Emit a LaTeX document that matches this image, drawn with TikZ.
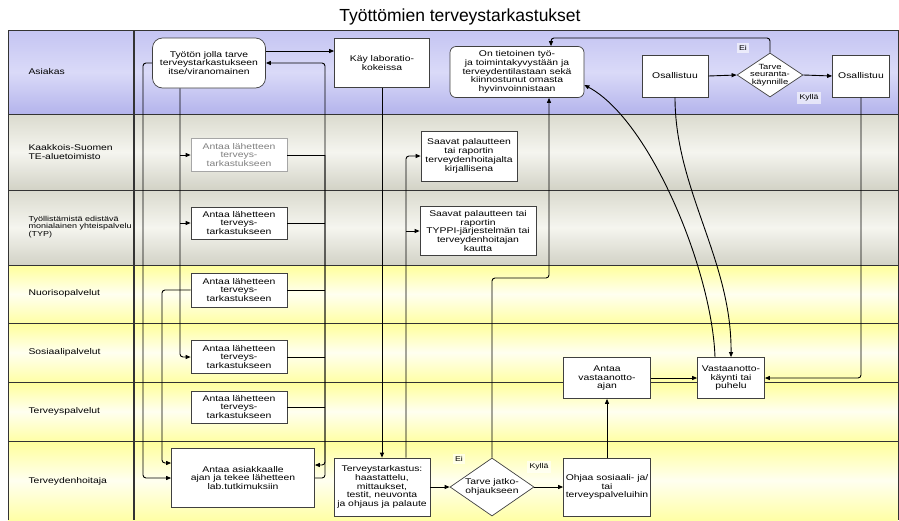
\documentclass[tikz,border=0pt]{standalone}
\usepackage{fontspec}
\setmainfont[FakeStretch=1.25]{Liberation Sans}
\newfontfamily\titlefont{Liberation Sans}
\usetikzlibrary{arrows.meta,shapes.geometric}

\definecolor{blueTop}{HTML}{C4C4F2}
\definecolor{blueMid}{HTML}{DADAF8}
\definecolor{blueBot}{HTML}{B4B4EC}
\definecolor{grayTop}{HTML}{DADACE}
\definecolor{grayMid}{HTML}{F5F5EF}
\definecolor{grayBot}{HTML}{D2D2C6}
\definecolor{yelTop}{HTML}{FFFF9A}
\definecolor{yelMid}{HTML}{FFFFF0}
\definecolor{yelBot}{HTML}{FFFFA6}

\begin{document}
\begin{tikzpicture}[x=1pt,y=-1pt,
  txt/.style={font=\fontsize{8.3}{8.8}\selectfont, align=center},
  box/.style={txt, draw=black!75, line width=0.7pt, fill=white, inner sep=1pt},
  rbox/.style={box, rounded corners=10pt},
  dia/.style={diamond, draw=black!75, line width=0.7pt, fill=white, inner sep=0pt},
  lanelbl/.style={anchor=west, align=left, font=\fontsize{8.3}{9}\selectfont},
  flow/.style={line width=0.9pt, rounded corners=3pt},
  arr/.style={flow, -{Triangle[length=5pt,width=4pt]}},
  tag/.style={font=\fontsize{7}{7}\selectfont, fill=white, fill opacity=0.6, text opacity=1, inner sep=2.5pt},
  laneline/.style={draw=black!80, line width=0.8pt}
]
\useasboundingbox (0,0) rectangle (899,520);

% title
\node[font=\titlefont\fontsize{17.5}{19}\selectfont] (title) at (460,17) {Työttömien terveystarkastukset};

% swimlanes
\shade[top color=blueTop, bottom color=blueBot, middle color=blueMid] (8,30) rectangle (898,114);
\shade[top color=grayTop, bottom color=grayBot, middle color=grayMid] (8,114) rectangle (898,190);
\shade[top color=grayTop, bottom color=grayBot, middle color=grayMid] (8,190) rectangle (898,265);
\shade[top color=yelTop, bottom color=yelBot, middle color=yelMid] (8,265) rectangle (898,323);
\shade[top color=yelTop, bottom color=yelBot, middle color=yelMid] (8,323) rectangle (898,382);
\shade[top color=yelTop, bottom color=yelBot, middle color=yelMid] (8,382) rectangle (898,441);
\shade[top color=yelTop, bottom color=yelBot, middle color=yelMid] (8,441) rectangle (898,520);
\foreach \yy in {30,114,190,265,323,382,441} \draw[laneline] (8,\yy) -- (898,\yy);
\draw[laneline] (8,30) -- (8,520);
\draw[laneline] (898,30) -- (898,520);
\draw[laneline, line width=1.2pt] (134,30) -- (134,520);

% lane titles
\node[lanelbl] (lA) at (25,72) {Asiakas};
\node[lanelbl] (lB) at (25,152) {Kaakkois-Suomen\\TE-aluetoimisto};
\node[lanelbl, font=\fontsize{7.2}{7.6}\selectfont] (lC) at (25,227) {Työllistämistä edistävä\\monialainen yhteispalvelu\\(TYP)};
\node[lanelbl] (lD) at (25,293) {Nuorisopalvelut};
\node[lanelbl] (lE) at (25,352) {Sosiaalipalvelut};
\node[lanelbl] (lF) at (25,411) {Terveyspalvelut};
\node[lanelbl] (lG) at (25,481) {Terveydenhoitaja};

% Asiakas
\node[rbox, minimum width=113pt, minimum height=50pt] (n1) at (209,63) {Työtön jolla tarve\\terveystarkastukseen\\itse/viranomainen};
\node[box, minimum width=95pt, minimum height=49pt] (n2) at (382,63) {Käy laboratio-\\kokeissa};
\node[box, rounded corners=6pt, minimum width=134pt, minimum height=51pt] (n3) at (517,72) {On tietoinen työ-\\ja toimintakyvystään ja\\terveydentilastaan sekä\\kiinnostunut omasta\\hyvinvoinnistaan};
\node[box, minimum width=66pt, minimum height=42pt] (n4) at (675,76) {Osallistuu};
\node[dia, minimum width=66pt, minimum height=44pt] (d1) at (770,75) {};
\node[txt, font=\fontsize{7.5}{7.8}\selectfont] (d1t) at (d1) {Tarve\\seuranta-\\käynnille};
\node[box, minimum width=57pt, minimum height=42pt] (n5) at (861,76) {Osallistuu};
\node[tag] (ei1) at (743,48) {Ei};
\node[tag] (ky1) at (809,98) {Kyllä};

% Kaakkois-Suomen TE-aluetoimisto and TYP
\node[box, draw=black!35, text=black!50, minimum width=96pt, minimum height=33pt] (n7) at (239,155) {Antaa lähetteen\\terveys-\\tarkastukseen};
\node[box, minimum width=96pt, minimum height=50pt] (n8) at (469,156) {Saavat palautteen\\tai raportin\\terveydenhoitajalta\\kirjallisena};
\node[box, minimum width=96pt, minimum height=32pt] (n9) at (239,223) {Antaa lähetteen\\terveys-\\tarkastukseen};
\node[box, minimum width=116pt, minimum height=49pt] (n10) at (478,231) {Saavat palautteen tai\\raportin\\TYPPI-järjestelmän tai\\terveydenhoitajan\\kautta};

% services
\node[box, minimum width=96pt, minimum height=34pt] (n11) at (239,290) {Antaa lähetteen\\terveys-\\tarkastukseen};
\node[box, minimum width=96pt, minimum height=33pt] (n12) at (239,357) {Antaa lähetteen\\terveys-\\tarkastukseen};
\node[box, minimum width=96pt, minimum height=32pt] (n13) at (239,407) {Antaa lähetteen\\terveys-\\tarkastukseen};
\node[box, minimum width=87pt, minimum height=41pt] (n18) at (607,378) {Antaa\\vastaanotto-\\ajan};
\node[box, minimum width=67pt, minimum height=41pt] (n19) at (731,378) {Vastaanotto-\\käynti tai\\puhelu};

% Terveydenhoitaja
\node[box, minimum width=143pt, minimum height=59pt] (n14) at (243,478) {Antaa asiakkaalle\\ajan ja tekee lähetteen\\lab.tutkimuksiin};
\node[box, minimum width=96pt, minimum height=58pt] (n15) at (382,487) {Terveystarkastus:\\haastattelu,\\mittaukset,\\testit, neuvonta\\ja ohjaus ja palaute};
\node[dia, minimum width=84pt, minimum height=58pt] (d2) at (492,487) {};
\node[txt] (d2t) at (d2) {Tarve jatko-\\ohjaukseen};
\node[box, minimum width=87pt, minimum height=58pt] (n17) at (607,487) {Ohjaa sosiaali- ja/\\tai\\terveyspalveluihin};
\node[tag] (ei2) at (459,459) {Ei};
\node[tag] (ky2) at (539,467) {Kyllä};

% vertical routing columns
\coordinate (colC) at (143,0);
\coordinate (colB) at (162,0);
\coordinate (colA) at (180,0);
\coordinate (colR) at (325,0);
\coordinate (colD) at (406,0);
\coordinate (jogE) at (549,278);
\coordinate (jogT) at (551,38);

% client and laboratory
\draw[arr] ([yshift=12pt]n1.east) -- ([yshift=12pt]n1.east -| n2.west);
\draw[arr] (n2.south) -- (n15.north);

% referrals from the client
\draw[arr] (n1.south -| colA) |- (n12.west);
\draw[arr] (colA |- n7.west) -- (n7.west);
\draw[arr] (colA |- n9.west) -- (n9.west);
\draw[arr] (n1.west) -- (n1.west -| colC) -- (colC |- n14.west) -- (n14.west);
\draw[arr] (n11.west) -- (n11.west -| colB) -- (colB |- 0,463) -- (n14.west |- 0,463);

% referrals gathered on the right
\draw[flow] (n7.east) -- (n7.east -| colR);
\draw[flow] (n9.east) -- (n9.east -| colR);
\draw[flow] (n11.east) -- (n11.east -| colR);
\draw[flow] (n12.east) -- (n12.east -| colR);
\draw[flow] (n13.east) -- (n13.east -| colR);
\draw[arr] (colR |- n7.east) -- (colR |- 0,465) -- (n14.east |- 0,465);
\draw[arr] (n14.east) -- (n14.east -| colR) -- (colR |- n1.east) -- (n1.east);

% health check feedback
\draw[arr] (n15.north -| colD) -- (colD |- n8.west) -- (n8.west);
\draw[arr] (colD |- n10.west) -- (n10.west);
\draw[arr] (n15.east) -- (d2.west);
\draw[arr] (d2.east) -- (n17.west);
\draw[arr] (d2.north) |- (jogE) -- (jogE |- n3.south);
\draw[arr] (n17.north) -- (n18.south);
\draw[arr] (n18.east) -- (n19.west);

% follow-up
\draw[arr] ([xshift=-16pt]n19.north) .. controls (712,270) and (650,120) .. ([yshift=-13pt]n3.east);
\draw[arr] (n4.south) .. controls (675,190) and (732,260) .. (n19.north);
\draw[arr] (n4.east) -- (d1.west);
\draw[arr] (d1.east) -- (n5.west);
\draw[arr] (d1.north) |- (jogT) -- (jogT |- n3.north);
\draw[arr] (n5.south) |- (n19.east);
\end{tikzpicture}
\end{document}
